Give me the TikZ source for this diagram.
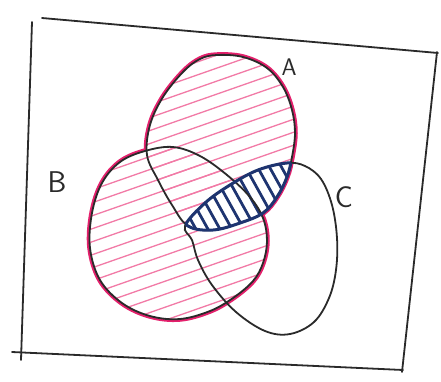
\documentclass[tikz,border=0pt]{standalone}
\usepackage{tikz}
\definecolor{pinkline}{HTML}{E4206C}
\definecolor{pinkhatch}{HTML}{F27AA6}
\definecolor{navy}{HTML}{1E3470}
\definecolor{ink}{HTML}{2A2A2A}
\newcommand\shapeA{plot[smooth cycle, tension=0.6] coordinates {(217,55) (243,57) (267,68) (283,87) (292,110) (295,133) (292,157) (287,177) (277,197) (263,213) (240,223) (213,230) (188,226) (172,205) (158,180) (147,155) (150,125) (163,97) (183,72) (200,59)}}
\newcommand\shapeB{plot[smooth cycle, tension=0.6] coordinates {(173,147) (200,156) (227,175) (250,197) (263,218) (267,241) (263,263) (253,281) (233,298) (210,311) (180,319) (150,316) (122,303) (100,280) (90,248) (92,213) (102,183) (120,162) (145,151)}}
\newcommand\shapeC{plot[smooth cycle, tension=0.6] coordinates {(185,226) (205,203) (230,185) (258,170) (287,163) (305,166) (321,179) (332,205) (337,238) (336,270) (329,298) (314,322) (290,334) (265,331) (236,312) (212,285) (198,260) (192,240)}}
\tikzset{
  outline/.style={draw=ink, line width=1.8pt},
  pinkedge/.style={draw=pinkline, line width=5.5pt},
  lensedge/.style={draw=navy, line width=3pt},
  hatchpink/.style={draw=pinkhatch, line width=1.3pt},
  hatchblue/.style={draw=navy, line width=2.8pt, line cap=round},
  framestroke/.style={draw=ink, line width=1.8pt, line cap=round},
  letter/.style={font=\sffamily\fontsize{30}{30}\selectfont, text=ink, inner sep=0pt}
}
\begin{document}
\begin{tikzpicture}[x=1pt, y=-1pt]
\useasboundingbox (0,0) rectangle (441,381);
\fill[white] (0,0) rectangle (441,381);
% pink outer edge of A u B
\path[pinkedge] \shapeA;
\path[pinkedge] \shapeB;
\fill[white] \shapeA;
\fill[white] \shapeB;
% pink hatching in A and B
\begin{scope}
  \clip \shapeA;
  \foreach \c in {92,105,...,470} \draw[hatchpink] (80,{\c-28}) -- (310,{\c-108.5});
\end{scope}
\begin{scope}
  \clip \shapeB;
  \foreach \c in {92,105,...,470} \draw[hatchpink] (80,{\c-28}) -- (310,{\c-108.5});
\end{scope}
% lens A n C
\begin{scope}
  \clip \shapeA;
  \fill[white] \shapeC;
  \clip \shapeC;
  \foreach \x in {140,152,...,310} \draw[hatchblue] ({\x},150) -- ({\x+50},240);
\end{scope}
% outlines
\path[outline] \shapeA;
\path[outline] \shapeB;
\path[outline] \shapeC;
% lens outline
\begin{scope}
  \clip \shapeA;
  \path[lensedge] \shapeC;
\end{scope}
\begin{scope}
  \clip \shapeC;
  \path[lensedge] \shapeA;
\end{scope}
% frame
\coordinate (tl1) at (42,18);
\coordinate (tr1) at (438,53);
\coordinate (tr2) at (437,52);
\coordinate (br2) at (402,372);
\coordinate (bl3) at (12,352);
\coordinate (br3) at (403,370);
\coordinate (tl4) at (32,22);
\coordinate (bl4) at (21,360);
\draw[framestroke] (tl1) -- (tr1);
\draw[framestroke] (tr2) -- (br2);
\draw[framestroke] (bl3) -- (br3);
\draw[framestroke] (tl4) -- (bl4);
% labels
\node[letter, font=\sffamily\fontsize{24}{24}\selectfont] (labA) at (289,67) {A};
\node[letter] (labB) at (57,182) {B};
\node[letter] (labC) at (344,197) {C};
\end{tikzpicture}
\end{document}
